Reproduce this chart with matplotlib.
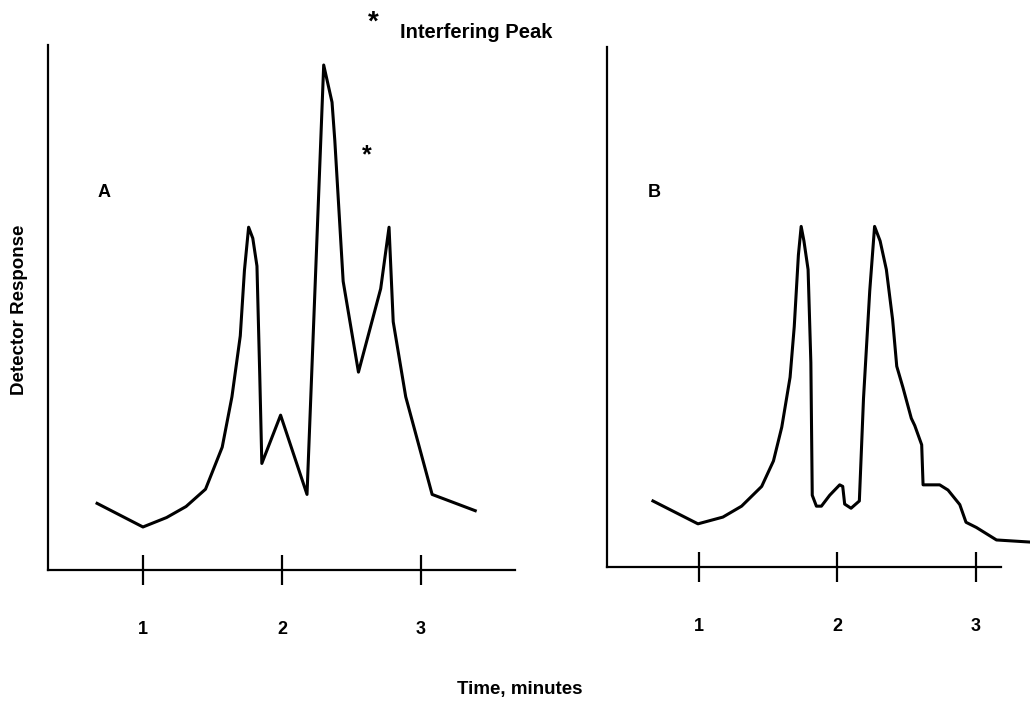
import matplotlib.pyplot as plt

plt.rcParams['font.family'] = ['Liberation Sans', 'DejaVu Sans']

# chromatogram A (time in minutes, response in % of axis height)
timeA = [0.67, 1.0, 1.17, 1.31, 1.45, 1.57, 1.64, 1.70, 1.73, 1.76, 1.79, 1.82,
         1.84, 1.855, 1.99, 2.18, 2.30, 2.36, 2.38, 2.44, 2.55, 2.71, 2.77, 2.80,
         2.89, 3.08, 3.39]
respA = [12.7, 8.2, 10.0, 12.1, 15.4, 23.4, 33.0, 44.6, 57.1, 65.3, 63.2, 57.9,
         37.2, 20.3, 29.5, 14.4, 96.2, 89.1, 81.8, 55.0, 37.7, 53.6, 65.3, 47.3,
         33.0, 14.4, 11.3]

# chromatogram B
timeB = [0.67, 0.995, 1.175, 1.31, 1.455, 1.54, 1.60, 1.66, 1.69, 1.72, 1.74, 1.76,
         1.79, 1.81, 1.82, 1.85, 1.886, 1.946, 2.018, 2.04, 2.054, 2.10, 2.16, 2.19,
         2.235, 2.27, 2.31, 2.355, 2.40, 2.43, 2.475, 2.535, 2.56, 2.61, 2.62, 2.74,
         2.80, 2.885, 2.93, 3.005, 3.15, 3.39]
respB = [12.7, 8.3, 9.6, 11.7, 15.5, 20.4, 26.9, 36.5, 46.2, 60.0, 65.5, 62.7,
         57.2, 39.3, 13.8, 11.7, 11.7, 13.8, 15.8, 15.5, 12.1, 11.3, 12.7, 32.4,
         53.1, 65.5, 62.7, 57.2, 47.6, 38.6, 34.5, 28.6, 27.2, 23.5, 15.8, 15.8,
         14.8, 12.0, 8.6, 7.6, 5.2, 4.8]

ticks = [1, 2, 3]

fig = plt.figure(figsize=(10.3, 7.04), dpi=100)
axA = fig.add_axes([0.0466, 0.1903, 0.4534, 0.7457])
axB = fig.add_axes([0.589, 0.1946, 0.3825, 0.7386])

for ax, t, r, xlim in [(axA, timeA, respA, (0.317, 3.676)),
                       (axB, timeB, respB, (0.336, 3.18))]:
    ax.plot(t, r, color='black', lw=2.2, clip_on=False, solid_joinstyle='round')
    ax.set_xlim(*xlim)
    ax.set_ylim(0, 100)
    ax.spines['top'].set_visible(False)
    ax.spines['right'].set_visible(False)
    ax.spines['left'].set_linewidth(1.6)
    ax.spines['bottom'].set_linewidth(1.6)
    ax.set_yticks([])
    ax.set_xticks(ticks)
    ax.tick_params(axis='x', direction='inout', length=22, width=1.6, pad=26,
                   labelsize=13)
    for lab in ax.get_xticklabels():
        lab.set_fontweight('bold')

axA.text(0.12, 0.72, 'A', transform=axA.transAxes, fontsize=13, fontweight='bold',
         ha='center', va='center')
axB.text(0.12, 0.72, 'B', transform=axB.transAxes, fontsize=13, fontweight='bold',
         ha='center', va='center')
axA.text(2.61, 79, '*', fontsize=18, fontweight='bold', ha='center', va='center')

fig.text(0.362, 0.968, '*', fontsize=20, fontweight='bold', ha='center', va='center')
fig.text(0.388, 0.954, 'Interfering Peak', fontsize=14.5, fontweight='bold',
         ha='left', va='center')
fig.text(0.019, 0.56, 'Detector Response', rotation=90, fontsize=13.5,
         fontweight='bold', ha='center', va='center')
fig.text(0.505, 0.02, 'Time, minutes', fontsize=13.5, fontweight='bold',
         ha='center', va='center')

fig.savefig('out.png', dpi=100)
